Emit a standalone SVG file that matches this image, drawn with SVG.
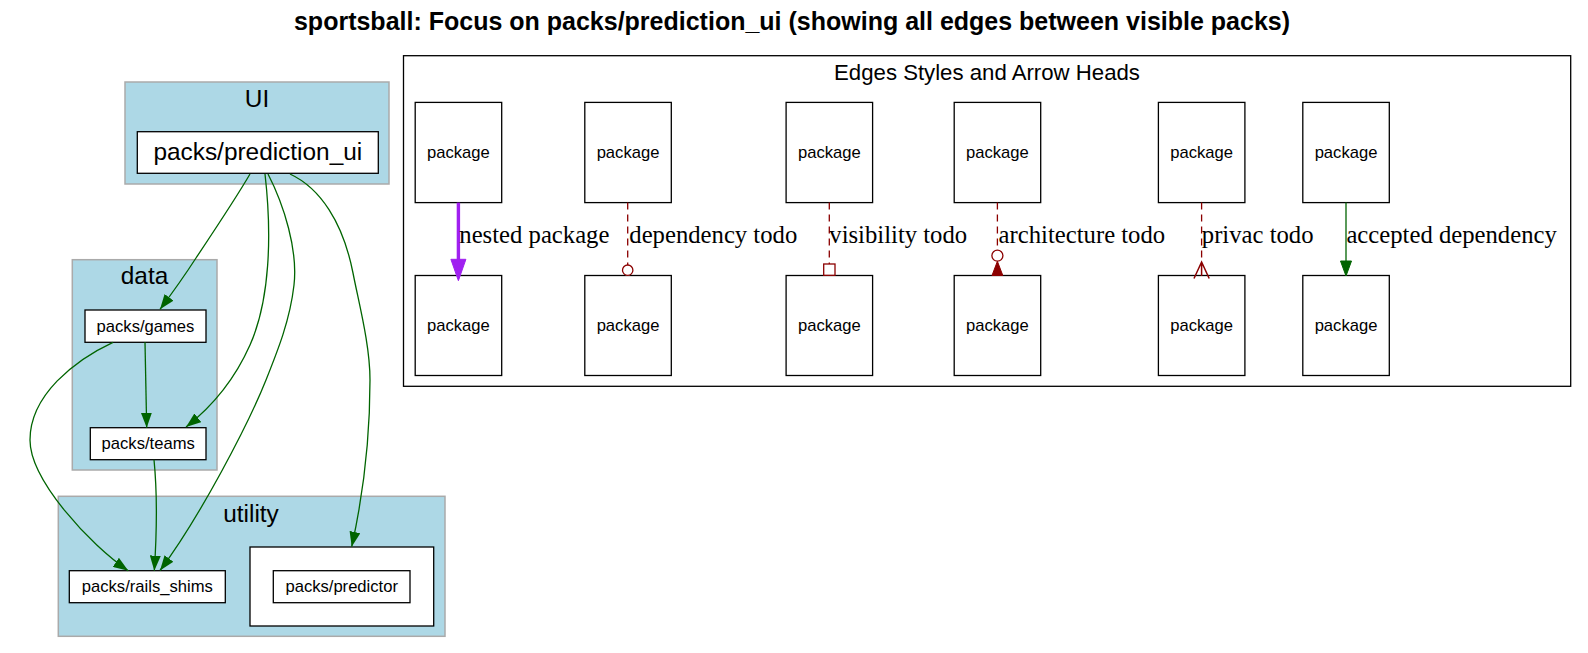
<svg xmlns="http://www.w3.org/2000/svg" width="1588" height="653" viewBox="0 0 1588 653">
<style>
.bg{fill:#ffffff}
.cl{fill:#add8e6;stroke:#aaaaaa;stroke-width:1.5}
.nd{fill:#ffffff;stroke:#000000;stroke-width:1.3}
.lg{fill:none;stroke:#000000;stroke-width:1.3}
.t{font-family:"Liberation Sans",Arial,sans-serif;fill:#000000;text-anchor:middle}
.big{font-size:24.4px}
.sm{font-size:16.6px}
.el{font-family:"Liberation Serif","Times New Roman",serif;font-size:24.7px;fill:#000000}
.e{fill:none;stroke:#006400;stroke-width:1.3}
.dr{fill:none;stroke:#8b0000;stroke-width:1.3;stroke-dasharray:7,5}
</style>
<defs>
<marker id="ag" viewBox="0 0 15 11" refX="15" refY="5.5" markerWidth="15" markerHeight="11" markerUnits="userSpaceOnUse" orient="auto">
<path d="M0,0 L15,5.5 L0,11 z" fill="#006400"/>
</marker>
</defs>
<rect class="bg" x="0" y="0" width="1588" height="653"/>
<text x="792" y="30" class="t" style="font-size:25px;font-weight:bold">sportsball: Focus on packs/prediction_ui (showing all edges between visible packs)</text>

<g id="cluster_UI">
<rect class="cl" x="125" y="82" width="264" height="102"/>
<text x="257" y="107" class="t big">UI</text>
</g>
<g id="cluster_data">
<rect class="cl" x="72.3" y="259.7" width="144.7" height="210.3"/>
<text x="144.5" y="284" class="t big">data</text>
</g>
<g id="cluster_utility">
<rect class="cl" x="58.3" y="496.3" width="386.7" height="140"/>
<text x="251" y="521.7" class="t big">utility</text>
</g>

<g id="node_prediction_ui">
<rect class="nd" x="137.3" y="131.7" width="241" height="41.6"/>
<text x="257.8" y="160" class="t big">packs/prediction_ui</text>
</g>
<g id="node_games">
<rect class="nd" x="85" y="310" width="121" height="32.3"/>
<text x="145.5" y="332" class="t sm">packs/games</text>
</g>
<g id="node_teams">
<rect class="nd" x="90.3" y="427.7" width="115.7" height="32"/>
<text x="148.2" y="449.3" class="t sm">packs/teams</text>
</g>
<g id="node_rails_shims">
<rect class="nd" x="69.3" y="570.7" width="156" height="32"/>
<text x="147.3" y="592.3" class="t sm">packs/rails_shims</text>
</g>
<g id="cluster_predictor">
<rect class="nd" x="250" y="547" width="183.7" height="79"/>
</g>
<g id="node_predictor">
<rect class="nd" x="273.3" y="570.7" width="136.7" height="32"/>
<text x="341.7" y="592.3" class="t sm">packs/predictor</text>
</g>

<g id="edges">
<path class="e" marker-end="url(#ag)" d="M250,174 C239,193 216,228 196,258 C185,275 173,292 160,309.3"/>
<path class="e" marker-end="url(#ag)" d="M265,174 C272,235 270,300 250,345 C238,372 218,402 186,427"/>
<path class="e" marker-end="url(#ag)" d="M268,174 C284,205 298,250 294,285 C290,320 278,350 266,380 C248,425 200,516.8 160,570.5"/>
<path class="e" marker-end="url(#ag)" d="M290,174 C320,188 343,222 353,273 C359,304 370,345 370,380 C370,430 365,486.7 351.7,546.7"/>
<path class="e" marker-end="url(#ag)" d="M145,342.3 L146.7,427.7"/>
<path class="e" marker-end="url(#ag)" d="M113,342.3 C75,360 30,395 30,440 C30,480 90,545 128.3,570.7"/>
<path class="e" marker-end="url(#ag)" d="M154,459.7 C157,490 157,530 154.3,570.7"/>
</g>

<g id="legend">
<rect class="lg" x="403.5" y="55.7" width="1167.2" height="330.6"/>
<text x="987" y="80" class="t" style="font-size:22.2px">Edges Styles and Arrow Heads</text>
</g>

<g id="legend_nodes">
<g id="lg1a"><rect class="nd" x="415.2" y="102.4" width="86.5" height="100.2"/><text x="458.4" y="158.3" class="t sm">package</text></g>
<g id="lg1b"><rect class="nd" x="415.2" y="275.5" width="86.5" height="100"/><text x="458.4" y="331.3" class="t sm">package</text></g>
<g id="lg2a"><rect class="nd" x="584.8" y="102.4" width="86.5" height="100.2"/><text x="628" y="158.3" class="t sm">package</text></g>
<g id="lg2b"><rect class="nd" x="584.8" y="275.5" width="86.5" height="100"/><text x="628" y="331.3" class="t sm">package</text></g>
<g id="lg3a"><rect class="nd" x="786.1" y="102.4" width="86.5" height="100.2"/><text x="829.3" y="158.3" class="t sm">package</text></g>
<g id="lg3b"><rect class="nd" x="786.1" y="275.5" width="86.5" height="100"/><text x="829.3" y="331.3" class="t sm">package</text></g>
<g id="lg4a"><rect class="nd" x="954.2" y="102.4" width="86.5" height="100.2"/><text x="997.4" y="158.3" class="t sm">package</text></g>
<g id="lg4b"><rect class="nd" x="954.2" y="275.5" width="86.5" height="100"/><text x="997.4" y="331.3" class="t sm">package</text></g>
<g id="lg5a"><rect class="nd" x="1158.4" y="102.4" width="86.5" height="100.2"/><text x="1201.6" y="158.3" class="t sm">package</text></g>
<g id="lg5b"><rect class="nd" x="1158.4" y="275.5" width="86.5" height="100"/><text x="1201.6" y="331.3" class="t sm">package</text></g>
<g id="lg6a"><rect class="nd" x="1302.8" y="102.4" width="86.5" height="100.2"/><text x="1346" y="158.3" class="t sm">package</text></g>
<g id="lg6b"><rect class="nd" x="1302.8" y="275.5" width="86.5" height="100"/><text x="1346" y="331.3" class="t sm">package</text></g>
</g>

<g id="legend_edges">
<line x1="458.4" y1="202.6" x2="458.4" y2="262" stroke="#a020f0" stroke-width="3.4"/>
<polygon points="450.9,259.3 465.9,259.3 458.4,280.7" fill="#a020f0" stroke="#a020f0" stroke-width="1"/>
<text x="459.3" y="243.3" class="el">nested package</text>

<line class="dr" x1="627.7" y1="202.6" x2="627.7" y2="265"/>
<circle cx="627.7" cy="270.2" r="5.2" fill="#ffffff" stroke="#8b0000" stroke-width="1.3"/>
<text x="629.3" y="243.3" class="el">dependency todo</text>

<line class="dr" x1="829.3" y1="202.6" x2="829.3" y2="264"/>
<rect x="823.7" y="264" width="11.3" height="11.3" fill="#ffffff" stroke="#8b0000" stroke-width="1.3"/>
<text x="829.3" y="243.3" class="el">visibility todo</text>

<line class="dr" x1="997.4" y1="202.6" x2="997.4" y2="250.2"/>
<circle cx="997.4" cy="255.7" r="5.5" fill="#ffffff" stroke="#8b0000" stroke-width="1.3"/>
<polygon points="997.4,261.3 992,275.5 1002.8,275.5" fill="#8b0000" stroke="#8b0000" stroke-width="1"/>
<text x="998.6" y="243.3" class="el">architecture todo</text>

<line class="dr" x1="1201.6" y1="202.6" x2="1201.6" y2="262"/>
<path d="M1194,278.5 L1201.6,262 L1209.2,278.5 M1201.6,262 L1201.6,276" fill="none" stroke="#8b0000" stroke-width="1.5"/>
<text x="1201.8" y="243.3" class="el">privac todo</text>

<line x1="1346" y1="202.6" x2="1346" y2="262" stroke="#006400" stroke-width="1.3"/>
<polygon points="1340.5,261 1351.5,261 1346,276" fill="#006400" stroke="#006400" stroke-width="1"/>
<text x="1346.4" y="243.3" class="el">accepted dependency</text>
</g>
</svg>
